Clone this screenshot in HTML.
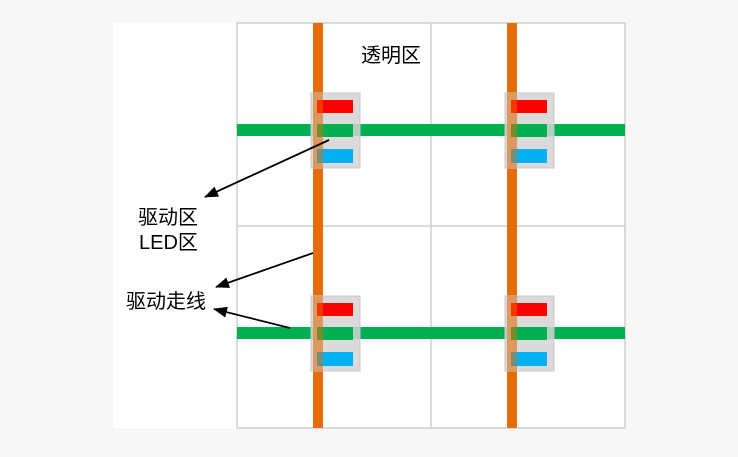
<!DOCTYPE html>
<html><head><meta charset="utf-8"><style>
body{margin:0;width:738px;height:452px;background:#f7f7f7;overflow:hidden;font-family:"Liberation Sans","Noto Sans CJK SC",sans-serif}
</style></head><body>
<svg width="738" height="452" viewBox="0 0 738 452" xmlns="http://www.w3.org/2000/svg">
<defs><marker id="a" markerWidth="14" markerHeight="11" refX="13" refY="5.5" orient="auto" markerUnits="userSpaceOnUse"><path d="M0,0 L14,5.5 L0,11 z" fill="#000"/></marker>
<g id="led">
<rect x="311" y="93" width="49" height="75" fill="#d4d4d4" fill-opacity="0.85" stroke="#c8c8c8"/>
<rect x="317" y="100" width="36" height="13" fill="#ff0000"/>
<rect x="317" y="124" width="36" height="13" fill="#00b050"/>
<rect x="317" y="149" width="36" height="14" fill="#00b0f0"/>
<rect x="313" y="93" width="10" height="75" fill="#e46c0a" fill-opacity="0.5"/>
</g></defs>
<rect x="113" y="23" width="512" height="405" fill="#fff"/>
<g stroke="#cfcfcf" stroke-width="1.5" fill="none">
<rect x="237" y="23" width="388" height="405"/>
<line x1="431" y1="23" x2="431" y2="428"/>
<line x1="237" y1="226" x2="625" y2="226"/>
</g>
<rect x="237" y="124" width="388" height="12" fill="#00b050"/>
<rect x="237" y="327" width="388" height="12" fill="#00b050"/>
<rect x="313" y="23" width="10" height="405" fill="#e46c0a"/>
<rect x="507" y="23" width="10" height="405" fill="#e46c0a"/>
<use href="#led"/>
<use href="#led" x="194"/>
<use href="#led" y="203"/>
<use href="#led" x="194" y="203"/>
<g stroke="#000" stroke-width="1.8" marker-end="url(#a)">
<line x1="329" y1="140" x2="205" y2="197"/>
<line x1="313" y1="253" x2="216" y2="287"/>
<line x1="290" y1="328" x2="214" y2="309"/>
</g>
<g font-size="20" fill="#000" font-family="Liberation Sans,Noto Sans CJK SC,sans-serif">
<text x="361" y="62">透明区</text>
<text x="138" y="224">驱动区</text>
<text x="139" y="249">LED区</text>
<text x="126" y="308">驱动走线</text>
</g>
</svg>
</body></html>
